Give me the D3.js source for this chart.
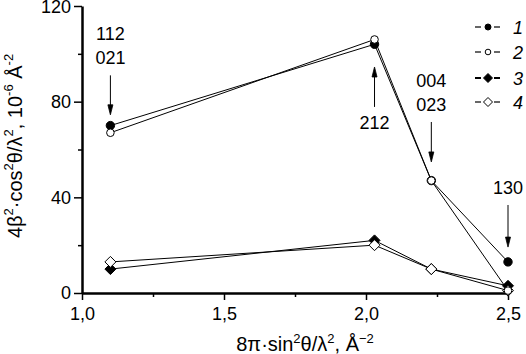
<!DOCTYPE html>
<html>
<head>
<meta charset="utf-8">
<script src="https://cdn.jsdelivr.net/npm/d3@7"></script>
<style>
  body { margin: 0; background: #fff; }
  text { font-family: "Liberation Sans", Arial, sans-serif; fill: #000; }
</style>
</head>
<body>
<div id="chart"></div>
<script>
// data
var xValues = [1.1, 2.03, 2.23, 2.5];
var series1 = [70, 104, 47, 13];   // filled circle
var series2 = [67, 106, 47, 1];    // open circle
var series3 = [10, 22, 10, 3];     // filled diamond
var series4 = [13, 20, 10, 1];     // open diamond
var seriesNames = ["1", "2", "3", "4"];
var xTicks = [1.0, 1.5, 2.0, 2.5];
var xTickLabels = ["1,0", "1,5", "2,0", "2,5"];
var yTicks = [0, 40, 80, 120];
// annotations: reflection indices, arrow from/to in data units
var annoX = [1.1, 2.03, 2.23, 2.5];
var annoText = [["112", "021"], ["212"], ["004", "023"], ["130"]];
var annoFrom = [91, 77.8, 71.5, 36.8];
var annoTo = [74.5, 94.5, 54.8, 19.2];

var W = 526, H = 354;
var margin = { top: 6, right: 18, bottom: 61, left: 82 };
var width = W - margin.left - margin.right,
  height = H - margin.top - margin.bottom;

var svg = d3.select("#chart").append("svg")
  .attr("width", W).attr("height", H)
  .append("g")
  .attr("transform", "translate(" + margin.left + "," + margin.top + ")");

var x = d3.scaleLinear().domain([1.0, 2.5]).range([0, width]);
var y = d3.scaleLinear().domain([0, 120]).range([height, 0]);

// diamond path, half diagonal r
function diamond(r) {
  return "M0," + (-r) + "L" + r + ",0L0," + r + "L" + (-r) + ",0Z";
}
function circle(r) {
  return d3.symbol().type(d3.symbolCircle).size(Math.PI * r * r)();
}

// minor ticks
svg.append("g")
  .attr("transform", "translate(0," + height + ")")
  .call(d3.axisBottom(x).tickValues([1.25, 1.75, 2.25]).tickSize(4).tickFormat(""))
  .call(g => g.select(".domain").remove())
  .call(g => g.selectAll("line").attr("stroke-width", 1.5));
svg.append("g")
  .call(d3.axisLeft(y).tickValues([20, 60, 100]).tickSize(4).tickFormat(""))
  .call(g => g.select(".domain").remove())
  .call(g => g.selectAll("line").attr("stroke-width", 1.5));

// major axes
svg.append("g")
  .attr("transform", "translate(0," + height + ")")
  .call(d3.axisBottom(x).tickValues(xTicks).tickSize(7).tickSizeOuter(0)
    .tickFormat((d, i) => xTickLabels[i]))
  .call(g => g.select(".domain").attr("stroke-width", 2.5))
  .call(g => g.selectAll("line").attr("stroke-width", 1.5))
  .call(g => g.selectAll("text").attr("font-size", 18).attr("dy", "0.95em")
    .attr("font-family", "Liberation Sans, Arial, sans-serif"));

svg.append("g")
  .call(d3.axisLeft(y).tickValues(yTicks).tickSize(8).tickSizeOuter(0))
  .call(g => g.select(".domain").attr("stroke-width", 2.5))
  .call(g => g.selectAll("line").attr("stroke-width", 1.5))
  .call(g => g.selectAll("text").attr("font-size", 18).attr("x", -11)
    .attr("dy", d => d === 120 ? "0.38em" : "0.32em")
    .attr("font-family", "Liberation Sans, Arial, sans-serif"));

// lines
var allSeries = [series1, series2, series3, series4];
var line = d3.line().x((d, i) => x(xValues[i])).y(d => y(d));
allSeries.forEach(function (s) {
  svg.append("path").datum(s)
    .attr("d", line)
    .attr("fill", "none")
    .attr("stroke", "#000")
    .attr("stroke-width", 1);
});

// markers
var markerPath = [circle(4.2), circle(3.8), diamond(5.5), diamond(5.5)];
var legendPath = [circle(3), circle(2.8), diamond(4.5), diamond(4.5)];
var markerFill = ["#000", "#fff", "#000", "#fff"];
[2, 0, 3, 1].forEach(function (k) {
  svg.selectAll(".m" + k).data(allSeries[k]).join("path")
    .attr("class", "m" + k)
    .attr("transform", (d, i) => "translate(" + x(xValues[i]) + "," + y(d) + ")")
    .attr("d", markerPath[k])
    .attr("fill", markerFill[k])
    .attr("stroke", "#000")
    .attr("stroke-width", 1);
});

// annotations with arrows
annoX.forEach(function (ax, i) {
  var px = x(ax), y0 = y(annoFrom[i]), y1 = y(annoTo[i]);
  var dir = y1 > y0 ? 1 : -1;
  svg.append("line")
    .attr("x1", px).attr("x2", px)
    .attr("y1", y0).attr("y2", y1 - dir * 8)
    .attr("stroke", "#000").attr("stroke-width", 1);
  svg.append("path")
    .attr("d", "M" + (px - 2.5) + "," + (y1 - dir * 10) + "L" + (px + 2.5) + "," + (y1 - dir * 10) + "L" + px + "," + y1 + "Z")
    .attr("fill", "#000").attr("stroke", "#000").attr("stroke-width", 0.8);
  var lines = annoText[i];
  lines.forEach(function (t, j) {
    var ty;
    if (dir > 0) ty = y0 - 11 - (lines.length - 1 - j) * 24;
    else ty = y0 + 22 + j * 24;
    svg.append("text")
      .attr("x", px).attr("y", ty)
      .attr("text-anchor", "middle")
      .attr("font-size", 18)
      .text(t);
  });
});

// legend
var legendY = [21, 46, 72, 96];
seriesNames.forEach(function (name, k) {
  var ly = legendY[k];
  var g = svg.append("g").attr("transform", "translate(" + 406 + "," + ly + ")");
  g.append("line").attr("x1", -13).attr("x2", -7).attr("y1", 0).attr("y2", 0)
    .attr("stroke", "#000").attr("stroke-width", k === 2 ? 2 : 1.2);
  g.append("line").attr("x1", 6).attr("x2", 12).attr("y1", 0).attr("y2", 0)
    .attr("stroke", "#000").attr("stroke-width", k === 2 ? 2 : 1.2);
  g.append("path")
    .attr("d", legendPath[k])
    .attr("fill", markerFill[k]).attr("stroke", "#000").attr("stroke-width", 1);
  g.append("text").attr("x", 30).attr("y", 6.5)
    .attr("text-anchor", "middle")
    .attr("font-size", 18).attr("font-style", "italic")
    .text(name);
});

// x axis label
var xl = svg.append("text")
  .attr("x", 223).attr("y", height + 58)
  .attr("text-anchor", "middle")
  .attr("font-size", 20);
xl.append("tspan").text("8π·sin");
xl.append("tspan").attr("font-size", 13).attr("dy", -8).text("2");
xl.append("tspan").attr("dy", 8).text("θ/λ");
xl.append("tspan").attr("font-size", 13).attr("dy", -8).text("2");
xl.append("tspan").attr("dy", 8).text(", Å");
xl.append("tspan").attr("font-size", 13).attr("dy", -8).text("−2");

// y axis label
var yl = svg.append("text")
  .attr("transform", "translate(" + (-60) + "," + 140 + ") rotate(-90)")
  .attr("text-anchor", "middle")
  .attr("font-size", 20);
yl.append("tspan").text("4β");
yl.append("tspan").attr("font-size", 13).attr("dy", -9).text("2");
yl.append("tspan").attr("dy", 9).text("·cos");
yl.append("tspan").attr("font-size", 13).attr("dy", -9).text("2");
yl.append("tspan").attr("dy", 9).text("θ/λ");
yl.append("tspan").attr("font-size", 13).attr("dy", -9).text("2");
yl.append("tspan").attr("dy", 9).text(", 10");
yl.append("tspan").attr("font-size", 13).attr("dy", -9).text("-6");
yl.append("tspan").attr("dy", 9).text(" Å");
yl.append("tspan").attr("font-size", 13).attr("dy", -9).text("-2");
</script>
</body>
</html>
